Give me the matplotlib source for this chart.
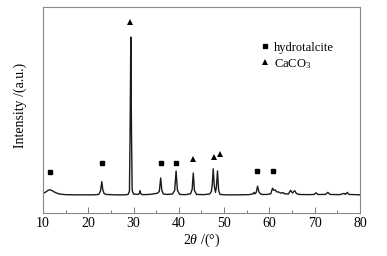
import matplotlib
matplotlib.use("Agg")
import matplotlib.pyplot as plt
from matplotlib.lines import Line2D
from matplotlib.ticker import MultipleLocator

plt.rcParams['font.family'] = ['Liberation Serif', 'DejaVu Serif']
plt.rcParams['mathtext.fontset'] = 'custom'
plt.rcParams['mathtext.rm'] = 'Liberation Serif'
plt.rcParams['mathtext.it'] = 'Liberation Serif:italic'

# XRD pattern (2theta, intensity)
two_theta = [10.0, 10.5, 11.0, 11.5, 12.0, 12.5, 13.0, 13.5, 14.0, 15.0, 17.0, 19.0, 21.0, 22.3,
             22.7, 23.0, 23.2, 23.5, 24.0, 26.0, 28.0, 28.8, 29.1, 29.25, 29.4, 29.55, 29.7,
             30.0, 31.0, 31.3, 31.45, 31.6, 32.0, 33.5, 34.5, 35.3, 35.7, 36.0, 36.25, 36.6,
             37.5, 38.6, 39.1, 39.4, 39.7, 40.2, 41.5, 42.6, 42.95, 43.2, 43.45, 43.9, 45.5,
             46.8, 47.2, 47.4, 47.6, 47.85, 48.1, 48.3, 48.55, 48.8, 49.1, 50.5, 53.0, 55.5,
             56.4, 56.6, 56.8, 57.1, 57.4, 57.7, 57.9, 58.3, 59.5, 60.3, 60.7, 61.0, 61.3,
             61.6, 62.0, 62.6, 63.0, 63.4, 64.2, 64.7, 65.1, 65.6, 66.0, 66.6, 68.5, 69.9,
             70.3, 70.7, 72.4, 72.9, 73.4, 75.5, 76.5, 76.8, 77.2, 77.6, 79.0, 80.0]
intensity = [9.6, 10.0, 10.8, 11.3, 10.9, 10.2, 9.7, 9.3, 9.1, 8.9, 8.8, 8.8, 8.8, 9.0,
             10.5, 15.2, 11.5, 9.4, 9.0, 8.8, 8.8, 9.0, 10.5, 40.0, 85.4, 40.0, 11.0,
             9.2, 9.0, 9.5, 10.8, 9.3, 8.9, 9.0, 9.3, 9.6, 10.5, 17.0, 11.0, 9.2,
             9.0, 9.2, 11.0, 20.4, 11.0, 9.0, 8.9, 9.3, 11.5, 19.4, 11.0, 9.0, 8.9,
             9.2, 10.5, 14.0, 21.4, 13.0, 10.0, 12.5, 20.4, 11.0, 9.0, 8.8, 8.8, 8.9,
             9.3, 10.0, 9.3, 10.0, 13.0, 10.2, 9.6, 9.0, 9.0, 9.3, 12.0, 11.0, 11.2,
             10.3, 10.2, 9.6, 9.9, 9.3, 9.2, 11.0, 9.7, 10.8, 9.4, 9.0, 8.9, 9.0,
             9.8, 9.0, 9.0, 10.0, 9.0, 8.9, 9.5, 9.0, 10.0, 9.0, 8.9, 8.8]

hydro_x = [11.5, 23.0, 36.0, 39.4, 57.3, 60.8]
hydro_y = [20.0, 24.3, 24.2, 24.3, 20.4, 20.4]
caco3_x = [29.2, 43.2, 47.8, 49.1]
caco3_y = [92.7, 26.2, 27.2, 28.6]

fig = plt.figure(figsize=(3.87, 2.56), dpi=100)
ax = fig.add_axes([0.111, 0.168, 0.819, 0.805])

ax.plot(two_theta, intensity, color='#1a1a1a', lw=1.0)
ax.plot(hydro_x, hydro_y, ls='none', marker='s', ms=3.3, color='black')
ax.plot(caco3_x, caco3_y, ls='none', marker='^', ms=4.2, color='black', mew=0)

ax.set_xlim(10, 80)
ax.set_ylim(0, 100)
ax.set_yticks([])
ax.xaxis.set_major_locator(MultipleLocator(10))
ax.xaxis.set_minor_locator(MultipleLocator(5))
ax.tick_params(axis='x', which='major', direction='in', length=4, width=0.7,
               color='#777777', labelsize=10, pad=3)
ax.tick_params(axis='x', which='minor', direction='in', length=2.5, width=0.7,
               color='#777777')
for s in ax.spines.values():
    s.set_color('#888888')
    s.set_linewidth(0.8)

ax.set_xlabel(r'$2\mathit{\theta}$ /(°)', fontsize=10, labelpad=1)
ax.set_ylabel('Intensity /(a.u.)', fontsize=10)
ax.yaxis.set_label_coords(-0.05, 0.52)

handles = [Line2D([], [], ls='none', marker='s', ms=3.3, color='black'),
           Line2D([], [], ls='none', marker='^', ms=4.2, color='black', mew=0)]
ax.legend(handles, ['hydrotalcite', r'CaCO$_3$'], loc='upper left',
          bbox_to_anchor=(0.665, 0.862), frameon=False, fontsize=9,
          handlelength=0.8, handletextpad=0.3, labelspacing=0.25, borderpad=0)

fig.savefig('out.png', dpi=100)
